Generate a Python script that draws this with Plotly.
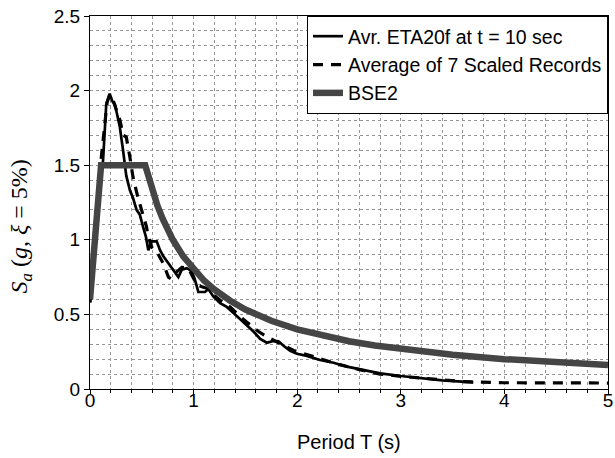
import plotly.graph_objects as go

# Average ETA20f at t = 10 sec (solid)
eta_T = [0, 0.045, 0.09, 0.126, 0.157, 0.19, 0.215, 0.239, 0.262, 0.287, 0.319, 0.35,
         0.386, 0.415, 0.45, 0.48, 0.515, 0.54, 0.563, 0.596, 0.644, 0.676, 0.708, 0.757,
         0.805, 0.853, 0.886, 0.934, 0.983, 1.014, 1.046, 1.11, 1.143, 1.19, 1.256, 1.32,
         1.385, 1.45, 1.514, 1.578, 1.643, 1.707, 1.771, 1.82, 1.868, 1.932, 1.997, 2.094,
         2.22, 2.35, 2.48, 2.61, 2.80, 3.0, 3.19, 3.4, 3.7]
eta_Sa = [0.58, 1.09, 1.35, 1.53, 1.91, 1.98, 1.93, 1.91, 1.84, 1.76, 1.60, 1.43,
          1.33, 1.28, 1.20, 1.17, 1.08, 1.02, 0.93, 0.99, 0.99, 0.93, 0.89, 0.84,
          0.80, 0.75, 0.80, 0.81, 0.79, 0.73, 0.65, 0.65, 0.67, 0.62, 0.575, 0.55,
          0.51, 0.47, 0.43, 0.385, 0.335, 0.31, 0.322, 0.32, 0.29, 0.255, 0.236, 0.222,
          0.194, 0.176, 0.15, 0.132, 0.105, 0.087, 0.072, 0.058, 0.045]

# Average of 7 scaled records (dashed)
rec_T = [0, 0.04, 0.08, 0.113, 0.145, 0.165, 0.185, 0.206, 0.24, 0.29, 0.32, 0.35,
         0.386, 0.415, 0.464, 0.512, 0.544, 0.563, 0.596, 0.644, 0.708, 0.757, 0.78,
         0.837, 0.886, 0.95, 0.998, 1.03, 1.08, 1.127, 1.176, 1.256, 1.353, 1.45, 1.546,
         1.626, 1.707, 1.836, 1.965, 2.06, 2.22, 2.4, 2.6, 2.8, 3.0, 3.3, 3.6, 4.0, 4.5, 5.0]
rec_Sa = [0.58, 1.0, 1.35, 1.58, 1.82, 1.92, 1.96, 1.97, 1.90, 1.80, 1.70, 1.69,
          1.55, 1.42, 1.28, 1.17, 1.09, 1.02, 0.95, 0.92, 0.84, 0.75, 0.74,
          0.785, 0.815, 0.81, 0.75, 0.70, 0.685, 0.675, 0.64, 0.595, 0.55, 0.485, 0.43,
          0.385, 0.35, 0.305, 0.258, 0.238, 0.205, 0.165, 0.13, 0.10, 0.085, 0.065, 0.05,
          0.042, 0.04, 0.04]

# BSE2 design spectrum
bse_T = [0, 0.107, 0.533, 0.6, 0.65, 0.7, 0.75, 0.8, 0.9, 1.0, 1.1, 1.2, 1.35, 1.5,
         1.75, 2.0, 2.25, 2.5, 2.75, 3.0, 3.5, 4.0, 4.5, 5.0]
bse_Sa = [0.6, 1.5, 1.5, 1.333, 1.231, 1.143, 1.067, 1.0, 0.889, 0.8, 0.727, 0.667,
          0.593, 0.533, 0.457, 0.4, 0.356, 0.32, 0.291, 0.267, 0.229, 0.2, 0.178, 0.16]

x_ticks = [0, 1, 2, 3, 4, 5]
y_ticks = [0, 0.5, 1, 1.5, 2, 2.5]
y_tick_text = ["0", "0.5", "1", "1.5", "2", "2.5"]

names = ["Avr. ETA20f at t = 10 sec", "Average of 7 Scaled Records", "BSE2"]

fig = go.Figure()
fig.add_trace(go.Scatter(x=eta_T, y=eta_Sa, mode="lines", name=names[0],
                         line=dict(color="black", width=2.7)))
fig.add_trace(go.Scatter(x=rec_T, y=rec_Sa, mode="lines", name=names[1],
                         line=dict(color="black", width=3.2, dash="10px,8px")))
fig.add_trace(go.Scatter(x=bse_T, y=bse_Sa, mode="lines", name=names[2],
                         line=dict(color="#454545", width=6.5)))

font_family = "Liberation Sans, Arial, sans-serif"
grid_col = "#959595"

fig.update_layout(
    width=615, height=458,
    margin=dict(l=90, r=7, t=16, b=69),
    paper_bgcolor="white", plot_bgcolor="white",
    font=dict(family=font_family, size=19, color="black"),
    showlegend=True,
    legend=dict(x=1, y=1, xanchor="right", yanchor="top",
                bgcolor="white", bordercolor="black", borderwidth=1,
                font=dict(family=font_family, size=19.5, color="black"),
                tracegroupgap=0),
    xaxis=dict(range=[0, 5], tickvals=x_ticks, ticks="outside", ticklen=4,
               tickcolor="black", showline=True, linecolor="black", linewidth=1.2,
               mirror=True, showgrid=True, gridcolor=grid_col, griddash="3px,3px",
               gridwidth=1, zeroline=False, automargin=False,
               ticklabeloverflow="allow", ticklabelstandoff=-10,
               minor=dict(dtick=0.2, ticks="outside", ticklen=3, tickcolor="black",
                          showgrid=True, gridcolor=grid_col, griddash="3px,3px", gridwidth=1),
               tickfont=dict(size=19)),
    yaxis=dict(range=[0, 2.5], tickvals=y_ticks, ticktext=y_tick_text, ticks="outside",
               ticklen=5, tickcolor="black", showline=True, linecolor="black",
               linewidth=1.2, mirror=True, showgrid=True, gridcolor=grid_col,
               griddash="3px,3px", gridwidth=1, zeroline=False, automargin=False,
               ticklabeloverflow="allow",
               minor=dict(dtick=0.1, showgrid=True, gridcolor=grid_col,
                          griddash="3px,3px", gridwidth=1),
               tickfont=dict(size=19)),
    annotations=[
        dict(text="Period T (s)", xref="paper", yref="paper", x=0.5, y=0,
             xanchor="center", yanchor="top", yshift=-40, showarrow=False,
             font=dict(family=font_family, size=20, color="black")),
        dict(text="<i>S<sub>a</sub></i> (<i>g</i>, <i>ξ</i> = 5%)", xref="paper", yref="paper",
             x=0, y=0.5, xanchor="center", yanchor="middle", xshift=-70, yshift=-24,
             textangle=-90, showarrow=False,
             font=dict(family="Liberation Serif, Times New Roman, serif", size=24, color="black")),
    ],
)

fig.write_html("out.html", config={"displayModeBar": False},
               post_script="document.body.style.margin='0px';")
